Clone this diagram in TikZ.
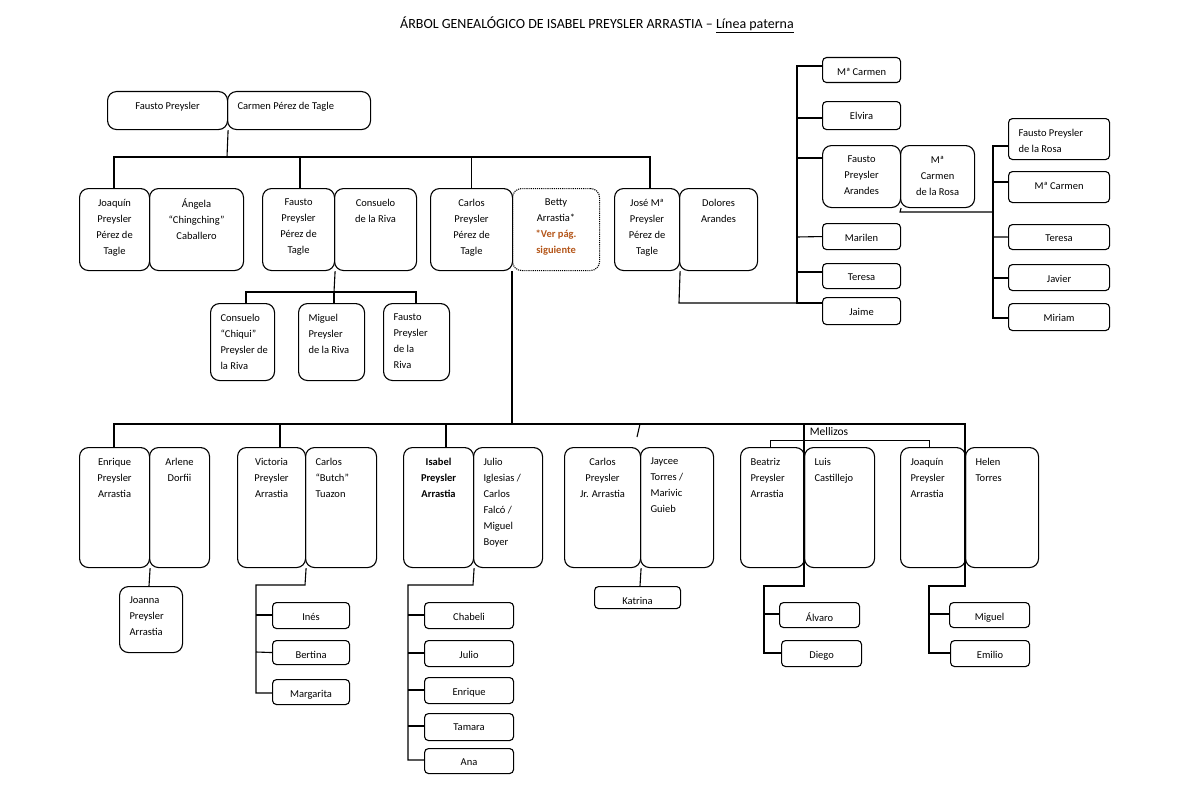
\documentclass[tikz,border=0pt]{standalone}
\usepackage{fontspec}
\setmainfont{Carlito}
\tikzset{pbox/.style={draw,line width=1.1pt,rounded corners=9pt,inner sep=0pt,anchor=north west},
 sbox/.style={pbox,rounded corners=4pt},
 ln/.style={line width=1.1pt}}
\definecolor{vercol}{HTML}{B4561A}
\newcommand\PBox[8][\centering]{% style,x1,y1,x2,y2,name,text
 \pgfmathsetmacro\ww{#5-#3}\pgfmathsetmacro\hh{#6-#4}%
 \node[#2] (#7) at (#3,#4) {\parbox[t][\hh pt][t]{\ww pt}{\fontsize{10.5}{16}\selectfont#1\vspace*{10.5pt}#8\par}};}
\newcommand\LBal{\raggedright\leftskip=10pt}
\begin{document}
\begin{tikzpicture}[x=1pt,y=-1pt]
\useasboundingbox (0,0) rectangle (1200,800);
\node (title) at (597,25) {\fontsize{14}{16}\selectfont ÁRBOL GENEALÓGICO DE ISABEL PREYSLER ARRASTIA – \underline{Línea paterna}};
% generation 1
\PBox{pbox}{107}{91}{227}{129}{f1}{Fausto Preysler}
\PBox[\LBal]{pbox}{227}{91}{370}{129}{c1}{Carmen Pérez de Tagle}
% generation 2
\PBox{pbox}{79}{188}{149}{270}{joa}{Joaquín\\Preysler\\Pérez de\\Tagle}
\PBox{pbox}{149}{188}{243}{270}{ang}{Ángela\\“Chingching”\\Caballero}
\PBox{pbox}{262}{188}{334}{270}{fau}{Fausto\\Preysler\\Pérez de\\Tagle}
\PBox{pbox}{334}{188}{416}{270}{con}{Consuelo\\de la Riva}
\PBox{pbox}{430}{188}{512}{270}{car}{Carlos\\Preysler\\Pérez de\\Tagle}
\PBox{pbox,densely dotted}{512}{188}{599}{270}{bet}{Betty\\Arrastia*\\{\color{vercol}\bfseries *Ver pág.\\siguiente}}
\PBox{pbox}{614}{188}{679}{270}{jos}{José Mª\\Preysler\\Pérez de\\Tagle}
\PBox{pbox}{679}{188}{757}{270}{dol}{Dolores\\Arandes}
% Fausto's children
\PBox[\LBal]{pbox}{210}{303}{274}{380}{chq}{Consuelo\\“Chiqui”\\Preysler de\\la Riva}
\PBox[\LBal]{pbox}{298}{303}{364}{380}{mig}{Miguel\\Preysler\\de la Riva}
\PBox[\LBal]{pbox}{383}{303}{449}{380}{fdr}{Fausto\\Preysler\\de la\\Riva}
% José's children
\PBox{sbox}{822}{57}{900}{82}{mc}{Mª Carmen}
\PBox{sbox}{822}{101}{900}{129}{elv}{Elvira}
\PBox{pbox}{822}{145}{900}{207}{fpa}{Fausto\\Preysler\\Arandes}
\PBox{pbox}{900}{145}{974}{207}{mcr}{Mª\\Carmen\\de la Rosa}
\PBox{sbox}{822}{223}{900}{249}{mar}{Marilen}
\PBox{sbox}{822}{263}{900}{288}{ter}{Teresa}
\PBox{sbox}{822}{297}{900}{324}{jai}{Jaime}
\PBox[\LBal]{sbox}{1008}{118}{1109}{159}{fpr}{Fausto Preysler\\de la Rosa}
\PBox{sbox}{1008}{171}{1109}{202}{mc2}{Mª Carmen}
\PBox{sbox}{1008}{224}{1109}{249}{te2}{Teresa}
\PBox{sbox}{1008}{264}{1109}{290}{jav}{Javier}
\PBox{sbox}{1008}{303}{1109}{330}{mir}{Miriam}
% generation 3
\PBox{pbox}{79}{447}{149}{567}{enr}{Enrique\\Preysler\\Arrastia}
\PBox{pbox}{149}{447}{209}{567}{arl}{Arlene\\Dorfii}
\PBox{pbox}{237}{447}{305}{567}{vic}{Victoria\\Preysler\\Arrastia}
\PBox[\LBal]{pbox}{305}{447}{376}{567}{but}{Carlos\\“Butch”\\Tuazon}
\PBox{pbox}{403}{447}{473}{567}{isa}{\bfseries Isabel\\Preysler\\Arrastia}
\PBox[\LBal]{pbox}{473}{447}{542}{567}{jul}{Julio\\Iglesias /\\Carlos\\Falcó /\\Miguel\\Boyer}
\PBox{pbox}{564}{447}{640}{567}{cjr}{Carlos\\Preysler\\Jr. Arrastia}
\PBox[\LBal]{pbox}{640}{447}{713}{567}{jay}{Jaycee\\Torres /\\Marivic\\Guieb}
\PBox[\LBal]{pbox}{740}{447}{804}{567}{bea}{Beatriz\\Preysler\\Arrastia}
\PBox[\LBal]{pbox}{804}{447}{874}{567}{lui}{Luis\\Castillejo}
\PBox[\LBal]{pbox}{900}{447}{965}{567}{jqn}{Joaquín\\Preysler\\Arrastia}
\PBox[\LBal]{pbox}{965}{447}{1038}{567}{hel}{Helen\\Torres}
% generation 4
\PBox[\LBal]{pbox}{119}{586}{182}{652}{jna}{Joanna\\Preysler\\Arrastia}
\PBox{sbox}{272}{602}{349}{628}{ine}{Inés}
\PBox{sbox}{272}{640}{349}{664}{ber}{Bertina}
\PBox{sbox}{272}{679}{349}{704}{mgt}{Margarita}
\PBox{sbox}{424}{602}{513}{628}{cha}{Chabeli}
\PBox{sbox}{424}{640}{513}{666}{jlo}{Julio}
\PBox{sbox}{424}{677}{513}{703}{eni}{Enrique}
\PBox{sbox}{424}{713}{513}{740}{tam}{Tamara}
\PBox{sbox}{424}{748}{513}{773}{ana}{Ana}
\PBox{sbox}{594}{586}{680}{608}{kat}{Katrina}
\PBox{sbox}{779}{602}{859}{627}{alv}{Álvaro}
\PBox{sbox}{781}{640}{861}{666}{die}{Diego}
\PBox{sbox}{949}{602}{1029}{627}{mgl}{Miguel}
\PBox{sbox}{950}{640}{1029}{666}{emi}{Emilio}
% connectors generation 1-2
\draw[ln] (f1.south east) -- (227,157);
\draw[ln] (joa.north -| 114,0) -- (114,157) -- (650,157) -- (jos.north -| 650,0);
\draw[ln] (fau.north -| 300,0) -- (300,157);
\draw[ln] (car.north) -- (car.north |- 0,157);
% Fausto children
\draw[ln] (fau.south east) -- (334,292);
\draw[ln] (chq.north -| 246,0) -- (246,292) -- (416,292) -- (fdr.north -| 416,0);
\draw[ln] (334,292) -- (mig.north -| 334,0);
% José children
\draw[ln] (jos.south east) -- (679,303) -- (797,303);
\draw[ln] (mc.west |- 0,66) -- (797,66) -- (797,303) -- (jai.west |- 0,303);
\draw[ln] (797,118) -- (elv.west |- 0,118);
\draw[ln] (797,158) -- (fpa.west |- 0,158);
\draw[ln] (797,237) -- (mar.west);
\draw[ln] (797,272) -- (ter.west |- 0,272);
\draw[ln] (fpa.south east) -- (900,212) -- (993,212);
\draw[ln] (fpr.west |- 0,146) -- (993,146) -- (993,318) -- (mir.west |- 0,318);
\draw[ln] (993,182) -- (mc2.west |- 0,182);
\draw[ln] (993,237) -- (te2.west);
\draw[ln] (993,278) -- (jav.west |- 0,278);
% Carlos & Betty children
\draw[ln] (bet.south west) -- (512,424);
\draw[ln] (enr.north -| 114,0) -- (114,424) -- (965,424) -- (965,586) -- (929,586) -- (929,653) -- (emi.west |- 0,653);
\draw[ln] (929,614) -- (mgl.west |- 0,614);
\draw[ln] (vic.north -| 280,0) -- (280,424);
\draw[ln] (isa.north -| 446,0) -- (446,424);
\draw[ln] (640,424) -- (637,437);
\draw[ln] (804,424) -- (804,586) -- (764,586) -- (764,653) -- (die.west |- 0,653);
\draw[ln] (764,614) -- (alv.west |- 0,614);
\draw[line width=0.7pt] (bea.north -| 770,0) -- (770,440) -- (929,440) -- (jqn.north -| 929,0);
\node (mell) at (829,432) {\fontsize{11.5}{13}\selectfont Mellizos};
% gen3 children
\draw[ln] (enr.south east) -- (jna.north -| 149,0);
\draw[ln] (kat.north -| 640,0) -- (cjr.south east);
\draw[ln] (vic.south east) -- (305,585) -- (256,585) -- (256,693) -- (mgt.west |- 0,693);
\draw[ln] (256,615) -- (ine.west |- 0,615);
\draw[ln] (256,652) -- (ber.west);
\draw[ln] (isa.south east) -- (473,585) -- (408,585) -- (408,760) -- (ana.west |- 0,760);
\draw[ln] (408,615) -- (cha.west |- 0,615);
\draw[ln] (408,653) -- (jlo.west |- 0,653);
\draw[ln] (408,690) -- (eni.west |- 0,690);
\draw[ln] (408,726) -- (tam.west |- 0,726);
\end{tikzpicture}
\end{document}
